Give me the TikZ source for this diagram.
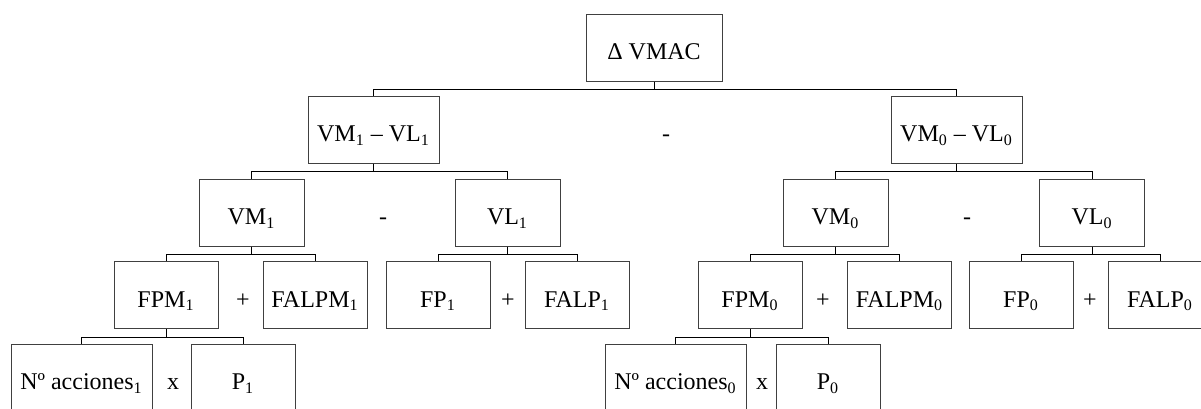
\documentclass[tikz,border=0pt]{standalone}
\usepackage{fontspec}
\setmainfont{Liberation Serif}
\tikzset{
  box/.style={draw=black!75, line width=0.5pt, align=center,
              font=\fontsize{12}{14}\selectfont, inner sep=0pt,
              text height=12pt, text depth=0pt, minimum height=33.5pt},
  rootbox/.style={box, minimum width=68pt},
  pair/.style={box, minimum width=65.5pt},
  term/.style={box, minimum width=52.5pt},
  leaf/.style={box, minimum width=52pt},
  wide/.style={box, minimum width=70.5pt},
  op/.style={font=\fontsize{12}{14}\selectfont, inner sep=0pt,
             text height=12pt, text depth=0pt},
  link/.style={line width=0.5pt},
}

\begin{document}
\begin{tikzpicture}[x=0.5pt, y=-0.5pt]
  \useasboundingbox (0,0) rectangle (1201,408);
  % root
  \node[rootbox] (vmac) at (654,47.5) {Δ VMAC};
  % first split
  \node[pair] (d1) at (373.5,129.5) {VM\textsubscript{1} – VL\textsubscript{1}};
  \node[pair] (d0) at (956.5,129.5) {VM\textsubscript{0} – VL\textsubscript{0}};
  % market and book values
  \node[term] (vm1) at (251.5,212.5) {VM\textsubscript{1}};
  \node[term] (vl1) at (507.5,212.5) {VL\textsubscript{1}};
  \node[term] (vm0) at (835.5,212.5) {VM\textsubscript{0}};
  \node[term] (vl0) at (1092,212.5) {VL\textsubscript{0}};
  % funds
  \node[leaf] (fpm1)   at (166,295)   {FPM\textsubscript{1}};
  \node[leaf] (falpm1) at (315,295)   {FALPM\textsubscript{1}};
  \node[leaf] (fp1)    at (438,295)   {FP\textsubscript{1}};
  \node[leaf] (falp1)  at (577,295)   {FALP\textsubscript{1}};
  \node[leaf] (fpm0)   at (750,295)   {FPM\textsubscript{0}};
  \node[leaf] (falpm0) at (899.5,295) {FALPM\textsubscript{0}};
  \node[leaf] (fp0)    at (1021,295)  {FP\textsubscript{0}};
  \node[leaf] (falp0)  at (1160,295)  {FALP\textsubscript{0}};
  % shares and price
  \node[wide] (nacc1) at (81.5,377.5)  {Nº acciones\textsubscript{1}};
  \node[leaf] (p1)    at (243,377.5)   {P\textsubscript{1}};
  \node[wide] (nacc0) at (675.5,377.5) {Nº acciones\textsubscript{0}};
  \node[leaf] (p0)    at (828,377.5)   {P\textsubscript{0}};
  % operators
  \node[op] at (666,129.5) {-};
  \node[op] at (383,212.5) {-};
  \node[op] at (967,212.5) {-};
  \foreach \x in {243,508,823,1090}
    \node[op] at (\x,295) {+};
  \foreach \x in {173,762}
    \node[op] at (\x,377.5) {x};
  % tree links
  \foreach \p/\c in {vmac/d1, vmac/d0, d1/vm1, d1/vl1, d0/vm0, d0/vl0,
                     vm1/fpm1, vm1/falpm1, vl1/fp1, vl1/falp1,
                     vm0/fpm0, vm0/falpm0, vl0/fp0, vl0/falp0,
                     fpm1/nacc1, fpm1/p1, fpm0/nacc0, fpm0/p0}
    \draw[link] (\p.south) -- ++(0,8) -| (\c.north);
\end{tikzpicture}
\end{document}
